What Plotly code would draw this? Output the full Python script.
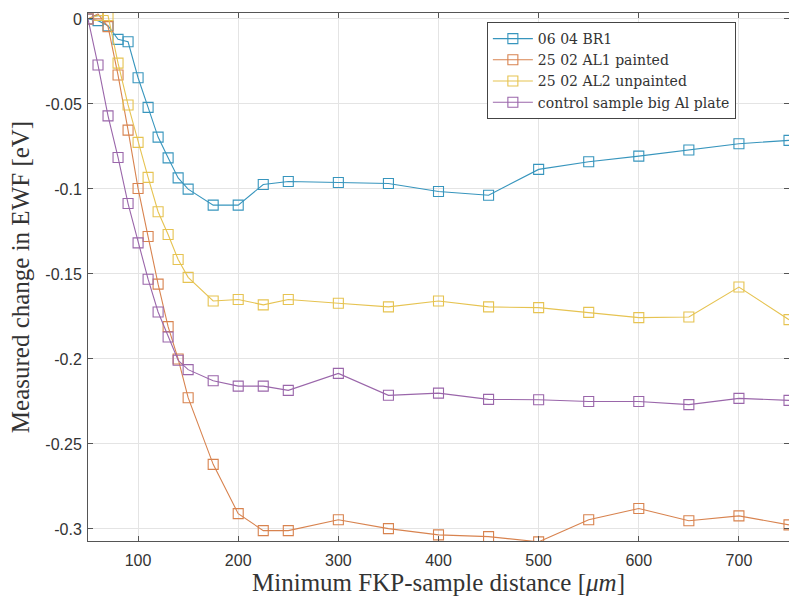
import plotly.graph_objects as go

# Minimum FKP-sample distance [um]
distance = [50, 60, 70, 80, 90, 100, 110, 120, 130, 140, 150, 175, 200, 225,
            250, 300, 350, 400, 450, 500, 550, 600, 650, 700, 750]

# Measured change in EWF [eV] for each sample
br1 = [0.0, -0.001, -0.004, -0.012, -0.0134, -0.0346, -0.052, -0.0695, -0.0817,
       -0.0935, -0.1001, -0.1095, -0.1095, -0.0974, -0.0956, -0.0962, -0.0968,
       -0.1015, -0.1037, -0.0885, -0.084, -0.0807, -0.0771, -0.0734, -0.0714]
al1_painted = [0.0, 0.003, -0.0045, -0.033, -0.0654, -0.0997, -0.128, -0.156,
               -0.181, -0.2, -0.2228, -0.262, -0.291, -0.301, -0.301, -0.2946,
               -0.2998, -0.3035, -0.3045, -0.3076, -0.2946, -0.288, -0.2952,
               -0.2923, -0.2976]
al2_unpainted = [0.0, 0.002, 0.002, -0.026, -0.0506, -0.0726, -0.0932, -0.1134,
                 -0.1268, -0.1415, -0.152, -0.1659, -0.165, -0.1682, -0.165,
                 -0.1672, -0.1694, -0.1659, -0.1694, -0.1698, -0.1726, -0.1757,
                 -0.1753, -0.1577, -0.1769]
control_al = [0.0, -0.0271, -0.057, -0.0815, -0.1086, -0.1317, -0.1531, -0.1724,
              -0.1871, -0.2008, -0.2063, -0.2128, -0.216, -0.216, -0.2185,
              -0.2085, -0.2214, -0.2201, -0.2238, -0.224, -0.225, -0.225,
              -0.2269, -0.2232, -0.2244]

names = ["06 04 BR1", "25 02 AL1 painted", "25 02 AL2 unpainted",
         "control sample big Al plate"]
colors = ["#3795bd", "#d8834f", "#e6c351", "#9a66aa"]

x_ticks = [100, 200, 300, 400, 500, 600, 700]
y_ticks = [0, -0.05, -0.1, -0.15, -0.2, -0.25, -0.3]
y_tick_labels = ["0", "-0.05", "-0.1", "-0.15", "-0.2", "-0.25", "-0.3"]

fig = go.Figure()
for name, ys, col in zip(names, [br1, al1_painted, al2_unpainted, control_al], colors):
    fig.add_trace(go.Scatter(
        x=distance, y=ys, name=name, mode="lines+markers",
        line=dict(color=col, width=1.1),
        marker=dict(symbol="square-open", size=10, color=col,
                    line=dict(width=1.1, color=col)),
    ))

axis_common = dict(
    showline=True, linecolor="#555555", linewidth=1, mirror="ticks",
    ticks="inside", ticklen=5, tickcolor="#555555",
    showgrid=True, gridcolor="#e4e4e4", gridwidth=1, zeroline=False,
    tickfont=dict(family="Liberation Sans, Arial", size=16, color="#333333"),
)

fig.update_xaxes(
    range=[50, 750], tickvals=x_ticks, ticklabelstandoff=5,
    title=dict(text="Minimum FKP-sample distance [<i>μm</i>]",
               font=dict(family="Liberation Serif, serif", size=25, color="#333333"),
               standoff=4),
    **axis_common,
)
fig.update_yaxes(
    range=[-0.3071, 0.0035], tickvals=y_ticks, ticktext=y_tick_labels,
    ticklabelstandoff=2,
    title=dict(text="Measured change in EWF [eV]",
               font=dict(family="Liberation Serif, serif", size=25, color="#333333"),
               standoff=8),
    **axis_common,
)

fig.update_layout(
    width=789, height=597,
    margin=dict(l=88, r=0, t=13, b=56),
    paper_bgcolor="white", plot_bgcolor="white",
    showlegend=True,
    legend=dict(
        x=0.569, y=0.983, xanchor="left", yanchor="top",
        bgcolor="white", bordercolor="#444444", borderwidth=1,
        font=dict(family="DejaVu Serif, serif", size=14, color="#333333"),
        tracegroupgap=0, itemwidth=40,
    ),
)

fig.write_html("out.html")
